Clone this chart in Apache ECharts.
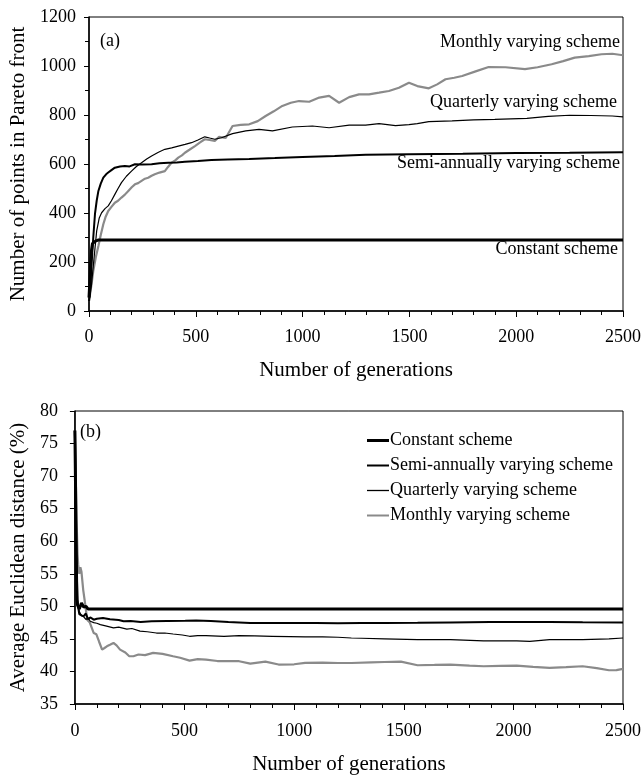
<!DOCTYPE html>
<html>
<head>
<meta charset="utf-8">
<script src="https://cdn.jsdelivr.net/npm/echarts@6/dist/echarts.min.js"></script>
<style>
html,body{margin:0;padding:0;background:#fff;}
#main{width:644px;height:779px;}
</style>
</head>
<body>
<div id="main"></div>
<script>
// ---- Data (a): Number of points in Pareto front ----
var names = ['Constant scheme', 'Semi-annually varying scheme', 'Quarterly varying scheme', 'Monthly varying scheme'];

var aConstGen = [0, 4, 8, 12, 16, 22, 30, 45, 100, 500, 1000, 1500, 2000, 2500];
var aConstVal = [55, 120, 200, 250, 275, 280, 285, 290, 290, 290, 290, 290, 290, 290];

var aSemiGen = [0, 6, 12, 20, 28, 36, 44, 55, 67, 80, 90, 105, 121, 145, 168, 190, 215, 250, 293, 330, 371, 410, 449, 510, 573, 650, 750, 870, 1000, 1150, 1295, 1500, 1750, 2000, 2250, 2500];
var aSemiVal = [40, 100, 192, 300, 396, 450, 490, 520, 544, 558, 565, 575, 585, 590, 592, 590, 599, 598, 599, 603, 605, 606, 609, 612, 616, 618, 620, 624, 629, 633, 638, 640, 642, 645, 646, 648];

var aQuartGen = [0, 6, 12, 24, 36, 48, 59, 75, 90, 105, 121, 136, 152, 175, 199, 222, 246, 270, 293, 325, 355, 387, 418, 450, 480, 510, 542, 565, 589, 620, 672, 734, 796, 859, 952, 1046, 1124, 1218, 1295, 1358, 1435, 1498, 1537, 1591, 1700, 1800, 1900, 2050, 2150, 2250, 2350, 2450, 2500];
var aQuartVal = [40, 70, 110, 220, 327, 380, 401, 418, 429, 450, 476, 500, 524, 550, 571, 590, 605, 620, 633, 648, 660, 666, 673, 680, 687, 698, 711, 706, 701, 707, 724, 735, 741, 735, 751, 755, 748, 759, 759, 765, 757, 761, 765, 773, 776, 780, 782, 786, 794, 799, 798, 796, 792];

var aMonthGen = [0, 5, 12, 20, 32, 44, 55, 67, 78, 90, 105, 121, 136, 152, 168, 184, 200, 215, 230, 246, 262, 277, 293, 308, 330, 355, 370, 386, 400, 418, 435, 449, 470, 496, 520, 542, 565, 589, 609, 640, 672, 710, 750, 790, 827, 865, 905, 945, 983, 1031, 1078, 1124, 1171, 1218, 1264, 1311, 1358, 1404, 1451, 1498, 1537, 1591, 1630, 1669, 1710, 1747, 1810, 1871, 1950, 2041, 2100, 2166, 2220, 2274, 2340, 2399, 2450, 2500];
var aMonthVal = [40, 69, 110, 163, 220, 265, 310, 354, 385, 408, 425, 442, 450, 463, 475, 490, 505, 517, 522, 531, 540, 544, 552, 558, 565, 571, 588, 605, 612, 626, 635, 646, 658, 673, 688, 701, 698, 694, 711, 706, 755, 760, 762, 775, 796, 815, 837, 850, 857, 854, 871, 878, 850, 873, 884, 884, 891, 898, 911, 932, 918, 909, 925, 946, 952, 959, 978, 996, 995, 987, 995, 1007, 1020, 1034, 1040, 1048, 1050, 1044];

// ---- Data (b): Average Euclidean distance (%) ----
var bConstGen = [0, 3, 6, 9, 12, 20, 30, 40, 50, 60, 500, 1000, 1500, 2000, 2500];
var bConstVal = [77, 68, 58, 51, 50.2, 49.6, 50.5, 49.9, 50.0, 49.6, 49.6, 49.6, 49.6, 49.6, 49.6];

var bSemiGen = [0, 4, 8, 12, 20, 30, 40, 50, 60, 70, 86, 100, 128, 160, 200, 222, 254, 300, 350, 420, 503, 553, 620, 700, 749, 800, 900, 1000, 1100, 1200, 1307, 1412, 1563, 1713, 1894, 2015, 2165, 2316, 2500];
var bSemiVal = [77, 66, 56, 50.5, 48.8, 48.6, 48.5, 48.9, 48.0, 48.3, 47.95, 48.1, 48.2, 48.0, 47.9, 47.7, 47.75, 47.6, 47.7, 47.75, 47.8, 47.84, 47.75, 47.6, 47.53, 47.45, 47.45, 47.45, 47.44, 47.42, 47.44, 47.44, 47.48, 47.53, 47.6, 47.6, 47.58, 47.55, 47.53];

var bQuartGen = [0, 4, 8, 12, 20, 30, 40, 50, 61, 70, 86, 100, 116, 140, 176, 200, 237, 260, 297, 330, 372, 410, 448, 490, 523, 560, 598, 680, 749, 820, 900, 980, 1050, 1130, 1200, 1261, 1307, 1412, 1563, 1713, 1864, 2015, 2075, 2165, 2316, 2436, 2500];
var bQuartVal = [77, 67, 57, 51, 49.2, 48.6, 48.4, 48.0, 48.2, 47.7, 47.5, 47.4, 47.2, 47.0, 46.7, 46.8, 46.5, 46.6, 46.2, 46.1, 45.9, 45.9, 45.75, 45.6, 45.4, 45.5, 45.5, 45.4, 45.5, 45.45, 45.4, 45.35, 45.3, 45.3, 45.25, 45.14, 45.1, 45.0, 44.88, 44.88, 44.7, 44.7, 44.63, 44.88, 44.88, 45.0, 45.14];

var bMonthGen = [0, 4, 8, 12, 15, 20, 25, 30, 38, 45, 56, 68, 86, 98, 110, 124, 135, 146, 160, 176, 190, 206, 230, 248, 267, 290, 320, 357, 400, 448, 480, 523, 560, 598, 650, 700, 749, 800, 869, 929, 1000, 1050, 1130, 1200, 1261, 1351, 1412, 1487, 1563, 1640, 1713, 1800, 1864, 1940, 2015, 2090, 2165, 2240, 2316, 2380, 2436, 2470, 2500];
var bMonthVal = [77, 70, 63, 58, 56.4, 55, 56, 55.3, 52.5, 50.8, 47.95, 47.5, 45.9, 45.7, 44.6, 43.35, 43.6, 43.86, 44.1, 44.38, 44.0, 43.35, 42.9, 42.33, 42.33, 42.6, 42.5, 42.85, 42.7, 42.33, 42.1, 41.67, 41.9, 41.82, 41.6, 41.6, 41.57, 41.2, 41.5, 41.06, 41.1, 41.31, 41.35, 41.3, 41.3, 41.4, 41.45, 41.5, 40.95, 41.0, 41.06, 40.9, 40.8, 40.85, 40.9, 40.7, 40.55, 40.65, 40.8, 40.5, 40.18, 40.2, 40.4];

// ---- Tick settings ----
var xMin = 0, xMax = 2500, xInterval = 500;
var aYMin = 0, aYMax = 1200, aYInterval = 200;
var bYMin = 35, bYMax = 80, bYInterval = 5;

function pairs(g, v) { return g.map(function (x, i) { return [x, v[i]]; }); }
function plain(v) { return String(v); }

var FONT = '"Liberation Serif", "Times New Roman", serif';
var GREY = '#8a8a8a';
var styles = [
  { color: '#000', width: 3 },
  { color: '#000', width: 2 },
  { color: '#000', width: 1.2 },
  { color: GREY, width: 2.2 }
];
var legendIcons = [
  'path://M0,0H22V3H0Z',
  'path://M0,0H22V2H0Z',
  'path://M0,0H22V1.3H0Z',
  'path://M0,0H22V2H0Z'
];

function mkSeries(name, idx, data, axis) {
  return {
    type: 'line', name: name, xAxisIndex: axis, yAxisIndex: axis,
    data: data, showSymbol: false, symbol: 'none', smooth: false,
    lineStyle: { color: styles[idx].color, width: styles[idx].width },
    itemStyle: { color: styles[idx].color },
    z: 10 - idx
  };
}

function xAxisCfg(gridIndex, margin, nameGap) {
  return {
    type: 'value', gridIndex: gridIndex, min: xMin, max: xMax, interval: xInterval,
    name: 'Number of generations', nameLocation: 'middle', nameGap: nameGap,
    nameTextStyle: { fontFamily: FONT, fontSize: 21, color: '#000' },
    axisLine: { show: true, lineStyle: { color: '#000', width: 1.5 } },
    axisTick: { show: true, inside: false, length: 6, lineStyle: { color: '#000', width: 1 } },
    minorTick: { show: true, splitNumber: 5, length: 4, lineStyle: { color: '#000', width: 1 } },
    splitLine: { show: false },
    axisLabel: { fontFamily: FONT, fontSize: 18, color: '#000', margin: margin, showMaxLabel: true, showMinLabel: true, formatter: plain }
  };
}

var option = {
  animation: false,
  backgroundColor: '#fff',
  grid: [
    { left: 89, top: 17, width: 536, height: 294, show: true, borderColor: '#000', borderWidth: 1, backgroundColor: 'transparent' },
    { left: 71, top: 411, width: 553, height: 293, show: true, borderColor: '#000', borderWidth: 1, backgroundColor: 'transparent' }
  ],
  xAxis: [xAxisCfg(0, 17, 49), xAxisCfg(1, 18, 50)],
  yAxis: [
    {
      type: 'value', gridIndex: 0, min: aYMin, max: aYMax, interval: aYInterval,
      name: 'Number of points in Pareto front', nameLocation: 'middle', nameGap: 57,
      nameTextStyle: { fontFamily: FONT, fontSize: 21, color: '#000' },
      axisLine: { show: true, lineStyle: { color: '#000', width: 1.5 } },
      axisTick: { show: true, inside: false, length: 5, lineStyle: { color: '#000', width: 1 } },
      minorTick: { show: true, splitNumber: 2, length: 4, lineStyle: { color: '#000', width: 1 } },
      splitLine: { show: false },
      axisLabel: { fontFamily: FONT, fontSize: 18, color: '#000', margin: 13, formatter: plain }
    },
    {
      type: 'value', gridIndex: 1, min: bYMin, max: bYMax, interval: bYInterval,
      name: 'Average Euclidean distance (%)', nameLocation: 'middle', nameGap: 38,
      nameTextStyle: { fontFamily: FONT, fontSize: 21, color: '#000' },
      axisLine: { show: true, lineStyle: { color: '#000', width: 1.5 } },
      axisTick: { show: true, inside: false, length: 5, lineStyle: { color: '#000', width: 1 } },
      splitLine: { show: false },
      axisLabel: { fontFamily: FONT, fontSize: 18, color: '#000', margin: 17, formatter: plain }
    }
  ],
  legend: {
    orient: 'vertical', left: 362, top: 426, itemWidth: 22, itemHeight: 14, itemGap: 6,
    textStyle: { fontFamily: FONT, fontSize: 18, color: '#000', lineHeight: 19, padding: [0, 0, 0, -4] },
    data: names.map(function (n, i) { return { name: n, icon: legendIcons[i], itemStyle: { color: styles[i].color } }; }),
    selectedMode: false
  },
  graphic: [
    { type: 'text', left: 100, top: 32, style: { text: '(a)', font: '18px ' + FONT, fill: '#000' } },
    { type: 'text', left: 80, top: 423, style: { text: '(b)', font: '18px ' + FONT, fill: '#000' } },
    { type: 'text', right: 24, top: 33, style: { text: names[3], font: '18px ' + FONT, fill: '#000' } },
    { type: 'text', right: 27, top: 93, style: { text: names[2], font: '18px ' + FONT, fill: '#000' } },
    { type: 'text', right: 24, top: 154, style: { text: names[1], font: '18px ' + FONT, fill: '#000' } },
    { type: 'text', right: 26, top: 240, style: { text: names[0], font: '18px ' + FONT, fill: '#000' } }
  ],
  series: [
    mkSeries(names[3], 3, pairs(aMonthGen, aMonthVal), 0),
    mkSeries(names[2], 2, pairs(aQuartGen, aQuartVal), 0),
    mkSeries(names[1], 1, pairs(aSemiGen, aSemiVal), 0),
    mkSeries(names[0], 0, pairs(aConstGen, aConstVal), 0),
    mkSeries(names[3], 3, pairs(bMonthGen, bMonthVal), 1),
    mkSeries(names[2], 2, pairs(bQuartGen, bQuartVal), 1),
    mkSeries(names[1], 1, pairs(bSemiGen, bSemiVal), 1),
    mkSeries(names[0], 0, pairs(bConstGen, bConstVal), 1)
  ]
};

var chart = echarts.init(document.getElementById('main'), null, { renderer: 'canvas' });
chart.setOption(option);
</script>
</body>
</html>
